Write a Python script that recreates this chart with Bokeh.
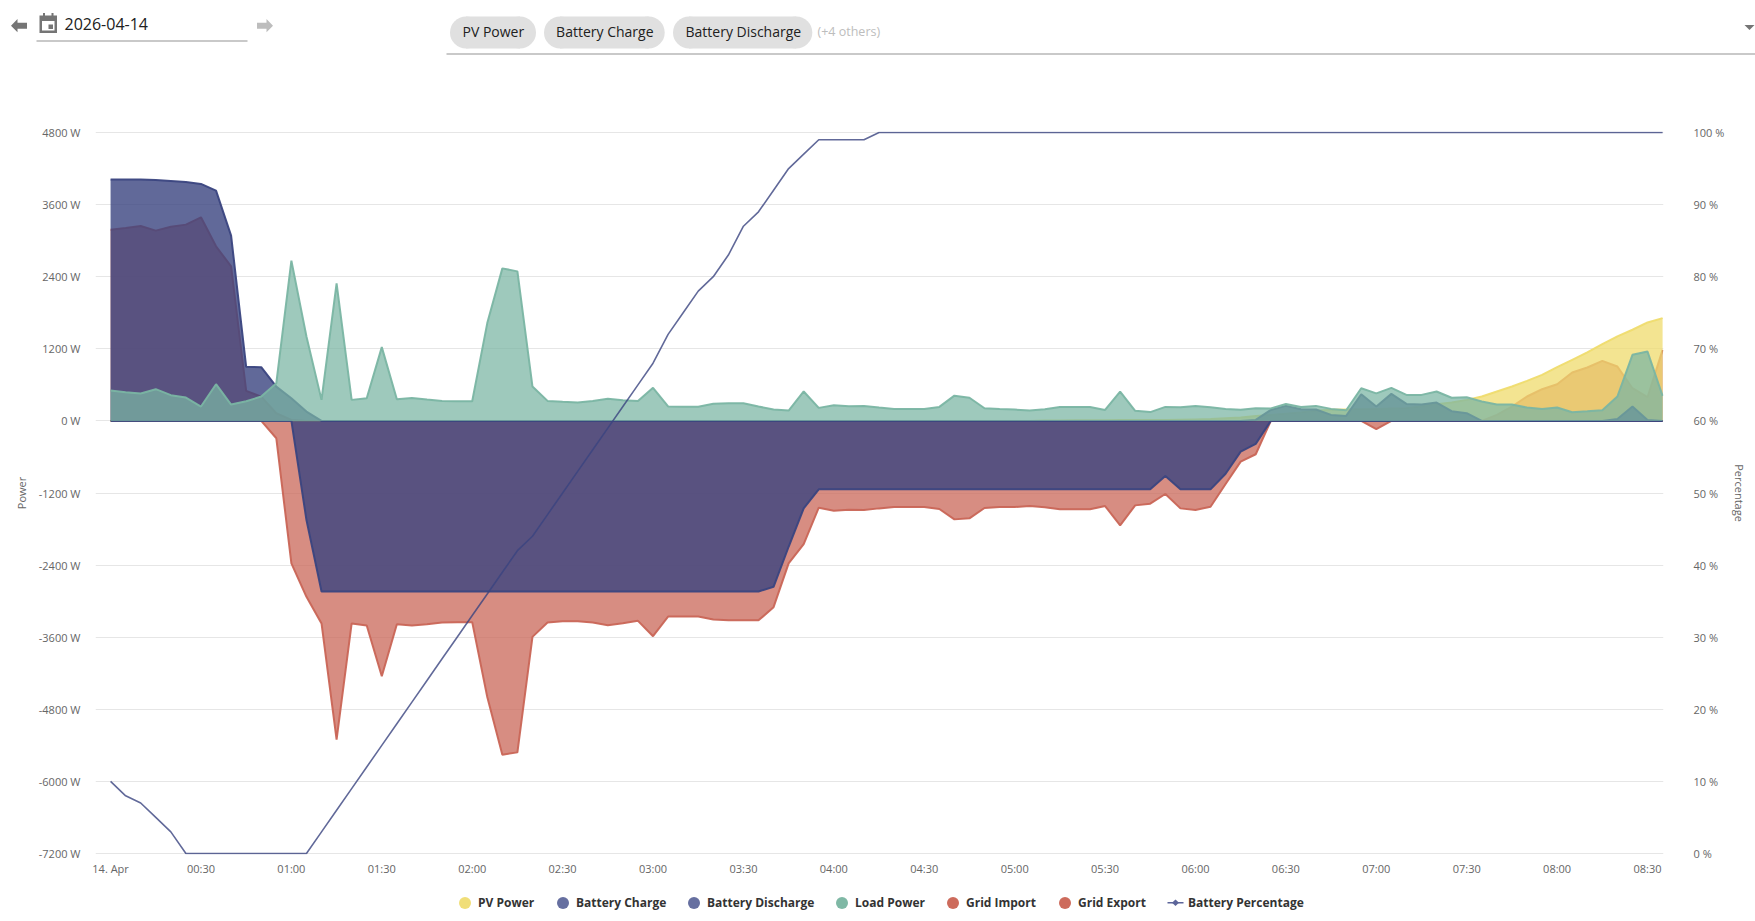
from bokeh.plotting import figure
from bokeh.layouts import column
from bokeh.models import Range1d, LinearAxis, FixedTicker, PrintfTickFormatter
from bokeh.core.properties import value
from bokeh.embed import file_html
from bokeh.resources import INLINE

# ---------- data (5 minute samples, 14 Apr 00:00 - 08:35) ----------
minutes = [5 * i for i in range(104)]

pv_power = [
    0,0,0,0,0,0,0,0,0,0, 0,0,0,0,0,0,0,0,0,0, 0,0,0,0,0,0,0,0,0,0,
    0,0,0,0,0,0,0,0,0,0, 0,0,0,0,0,0,0,0,0,0, 0,0,0,0,0,0,0,0,0,0,
    0,0,5,5,10,10,10,15,15,15, 15,20,25,30,45,55,80,100,120,140,
    170,185,190,195,200,205,210,240,278,306, 350,406,489,572,667,767,894,1017,1139,1278,
    1406,1517,1639,1711]
battery_charge = [
    0,0,0,0,0,0,0,0,0,0, 0,0,0,-1650,-2840,-2840,-2840,-2840,-2840,-2840,
    -2840,-2840,-2840,-2840,-2840,-2840,-2840,-2840,-2840,-2840, -2840,-2840,-2840,-2840,-2840,-2840,-2840,-2840,-2840,-2840,
    -2840,-2840,-2840,-2840,-2761,-2095,-1456,-1139,-1139,-1139, -1139,-1139,-1139,-1139,-1139,-1139,-1139,-1139,-1139,-1139,
    -1139,-1139,-1139,-1139,-1139,-1139,-1139,-1139,-1139,-1139, -917,-1139,-1139,-1139,-880,-511,-383,0,0,0,
    0,0,0,0,0,0,0,0,0,0, 0,0,0,0,0,0,0,0,0,0,
    0,0,0,0]
battery_discharge = [
    4017,4017,4017,4011,3995,3978,3945,3833,3083,900, 895,570,378,156,0,0,0,0,0,0,
    0,0,0,0,0,0,0,0,0,0, 0,0,0,0,0,0,0,0,0,0,
    0,0,0,0,0,0,0,0,0,0, 0,0,0,0,0,0,0,0,0,0,
    0,0,0,0,0,0,0,0,0,0, 0,0,0,0,0,0,17,183,250,194,
    189,100,83,444,239,450,283,272,306,161, 128,0,0,0,0,0,0,0,0,0,
    33,239,17,0]
load_power = [
    505,478,455,528,428,389,239,611,272,328, 405,628,2667,1405,350,2289,350,378,1228,361,
    383,355,333,328,328,1628,2539,2489,572,333, 317,306,333,370,345,330,550,240,235,235,
    285,294,294,239,189,172,490,217,261,244, 250,222,200,200,200,233,420,385,211,197,
    189,172,194,233,233,233,183,489,167,147, 233,228,250,228,200,186,211,208,280,233,
    250,200,178,544,458,550,433,433,489,385, 395,322,272,272,222,200,222,144,160,178,
    406,1100,1156,417]
grid_import = [
    3183,3211,3245,3167,3233,3267,3389,2906,2572,500, 405,128,17,0,0,0,0,0,0,0,
    0,0,0,0,0,0,0,0,0,0, 0,0,0,0,0,0,0,0,0,0,
    0,0,0,0,0,0,0,0,0,0, 0,0,0,0,0,0,0,0,0,0,
    0,0,0,0,0,0,0,0,0,0, 0,0,0,0,0,0,0,0,0,0,
    0,0,0,0,0,0,0,0,0,0, 0,0,100,239,406,528,611,806,889,1000,
    906,544,394,1183]
grid_export = [
    0,0,0,0,0,0,0,0,0,0, 0,-289,-2372,-2928,-3372,-5306,-3372,-3406,-4250,-3383,
    -3406,-3383,-3356,-3350,-3350,-4595,-5556,-5517,-3595,-3356, -3333,-3333,-3356,-3400,-3367,-3328,-3584,-3256,-3256,-3256,
    -3306,-3317,-3317,-3320,-3100,-2372,-2050,-1444,-1494,-1478, -1483,-1456,-1433,-1433,-1433,-1467,-1639,-1622,-1450,-1433,
    -1433,-1417,-1439,-1472,-1472,-1472,-1417,-1739,-1406,-1378, -1217,-1456,-1483,-1428,-1050,-678,-555,0,0,0,
    0,0,0,0,-136,0,0,0,0,0, 0,0,0,0,0,0,0,0,0,0,
    0,0,0,0]
battery_percentage = [
    10,8,7,5,3,0,0,0,0,0, 0,0,0,0,3,6,9,12,15,18,
    21,24,27,30,33,36,39,42,44,47, 50,53,56,59,62,65,68,72,75,78,
    80,83,87,89,92,95,97,99,99,99, 99,100,100,100,100,100,100,100,100,100,
    100,100,100,100,100,100,100,100,100,100, 100,100,100,100,100,100,100,100,100,100,
    100,100,100,100,100,100,100,100,100,100, 100,100,100,100,100,100,100,100,100,100,
    100,100,100,100]

power_ticks = [-7200,-6000,-4800,-3600,-2400,-1200,0,1200,2400,3600,4800]
percent_ticks = [0,10,20,30,40,50,60,70,80,90,100]
time_ticks = [0,30,60,90,120,150,180,210,240,270,300,330,360,390,420,450,480,510]
time_labels = ["14. Apr","00:30","01:00","01:30","02:00","02:30","03:00","03:30","04:00",
               "04:30","05:00","05:30","06:00","06:30","07:00","07:30","08:00","08:30"]
legend_names = ["PV Power","Battery Charge","Battery Discharge","Load Power","Grid Import","Grid Export"]
chip_names = ["PV Power","Battery Charge","Battery Discharge"]

YELLOW, BLUE, TEAL, RED = "#efdc6e", "#3a4480", "#7ab5a3", "#c96556"
FONT = "Open Sans"
GREY = "#666666"

for s in (pv_power, battery_charge, battery_discharge, load_power, grid_import, grid_export, battery_percentage):
    assert len(s) == len(minutes), len(s)

# ---------- main chart ----------
p = figure(width=1755, height=825, output_backend="svg", toolbar_location=None, frame_align=False,
           x_range=Range1d(-5, 515.3), y_range=Range1d(-7217, 4817),
           min_border_left=95, min_border_right=92, min_border_top=71, min_border_bottom=31,
           outline_line_color=None, background_fill_color="white", border_fill_color="white")
p.extra_y_ranges = {"pct": Range1d(-0.139, 100.139)}

def area(values, color, alpha):
    p.varea(minutes, y1=[0] * len(values), y2=values, fill_color=color, fill_alpha=alpha)
    p.line(minutes, values, line_color=color, line_width=2, line_alpha=0.95)

area(grid_import, RED, 0.74)
area(grid_export, RED, 0.74)
area(pv_power, YELLOW, 0.76)
area(battery_charge, BLUE, 0.8)
area(battery_discharge, BLUE, 0.8)
area(load_power, TEAL, 0.73)
p.line(minutes, battery_percentage, y_range_name="pct", line_color=BLUE, line_alpha=0.8, line_width=1.6)

p.xgrid.visible = False
p.ygrid.grid_line_color = "#e6e6e6"
p.ygrid.grid_line_width = 1

xa = p.xaxis[0]
xa.ticker = FixedTicker(ticks=time_ticks)
xa.major_label_overrides = dict(zip(time_ticks, time_labels))
xa.major_label_standoff = 6

ya = p.yaxis[0]
ya.ticker = FixedTicker(ticks=power_ticks)
ya.formatter = PrintfTickFormatter(format="%d W")
ya.major_label_standoff = 15
ya.axis_label = "Power"
ya.axis_label_standoff = 7

ra = LinearAxis(y_range_name="pct", ticker=FixedTicker(ticks=percent_ticks),
                formatter=PrintfTickFormatter(format="%d %%"))
ra.major_label_standoff = 30
ra.axis_label = "Percentage"
ra.axis_label_standoff = 5
p.add_layout(ra, "right")

for ax in (xa, ya, ra):
    ax.axis_line_color = None
    ax.major_tick_line_color = None
    ax.minor_tick_line_color = None
    ax.major_tick_out = 0
    ax.major_tick_in = 0
    ax.minor_tick_out = 0
    ax.minor_tick_in = 0
    ax.major_label_text_font = FONT
    ax.major_label_text_font_size = "11px"
    ax.major_label_text_color = GREY
    ax.axis_label_text_font = FONT
    ax.axis_label_text_font_size = "11px"
    ax.axis_label_text_font_style = "normal"
    ax.axis_label_text_color = GREY

# ---------- strips above and below the chart, in page pixels ----------
def strip(height, top):
    f = figure(width=1755, height=height, output_backend="svg", toolbar_location=None, frame_align=False,
               x_range=Range1d(0, 1755), y_range=Range1d(top + height, top),
               x_axis_location=None, y_axis_location=None,
               min_border=0, min_border_left=0, min_border_right=0, min_border_top=0, min_border_bottom=0,
               outline_line_color=None, background_fill_color="white", border_fill_color="white")
    f.xgrid.visible = False
    f.ygrid.visible = False
    return f

def box(f, l, t, r, b, color):
    f.quad(left=[l], right=[r], top=[t], bottom=[b], fill_color=color, line_color=None)
def poly(f, pts, color):
    f.patch([a for a, _ in pts], [b for _, b in pts], fill_color=color, line_color=None)
def label(f, x, y, s, size, color, style="normal"):
    f.text(x=[x], y=[y], text=[s], text_font=value(FONT), text_font_size=value(size), text_color=color,
           text_font_style=style, text_baseline="middle", text_align="left")
def dot(f, x, y, d, color):
    f.scatter([x], [y], marker="circle", size=d, fill_color=color, line_color=None)

head = strip(60, 0)
# date navigation
poly(head, [(10.5,25.2),(17,18.5),(17,22.2),(26.5,22.2),(26.5,28.2),(17,28.2),(17,31.8)], "#757575")
poly(head, [(272.5,25.2),(266,18.5),(266,22.2),(256.5,22.2),(256.5,28.2),(266,28.2),(266,31.8)], "#bdbdbd")
box(head, 39,15,56.5,32.5,"#757575")
box(head, 41.5,20.5,54,30,"#ffffff")
box(head, 48,24,52.5,28.5,"#757575")
box(head, 42.5,12.5,44.5,15.5,"#757575")
box(head, 51,12.5,53,15.5,"#757575")
label(head, 64,23,"2026-04-14","16px","#212121")
box(head, 36,40,247,41,"#949494")
# series selector
for (l, r, tx), name in zip([(449.5,535.5,462),(543.5,664.2,555.6),(672.5,811.8,685)], chip_names):
    box(head, l+16,16,r-16,48,"#e0e0e0")
    dot(head, l+16,32,32,"#e0e0e0")
    dot(head, r-16,32,32,"#e0e0e0")
    label(head, tx,31,name,"14px","#212121")
label(head, 817,31,"(+4 others)","12.5px","#bdbdbd")
box(head, 446,53,1755,54,"#949494")
poly(head, [(1744,24.5),(1754,24.5),(1749,29.5)], "#757575")

foot = strip(36, 885)
legend_marks = [464.5,562.5,693.5,841.5,952.5,1064.5]
legend_swatch = ["#f0de78","#666fa0","#666fa0","#7fb8a5","#cd6b5c","#cd6b5c"]
for cx, name, c in zip(legend_marks, legend_names, legend_swatch):
    dot(foot, cx,902.5,12,c)
    label(foot, cx+13,902,name,"12px","#333333","bold")
box(foot, 1167,901.5,1183,903,"#5c659a")
poly(foot, [(1175,899),(1178.5,902.2),(1175,905.5),(1171.5,902.2)], "#5c659a")
label(foot, 1187.5,902,"Battery Percentage","12px","#333333","bold")

open("out.html", "w").write(file_html(column(head, p, foot, spacing=0), INLINE))
